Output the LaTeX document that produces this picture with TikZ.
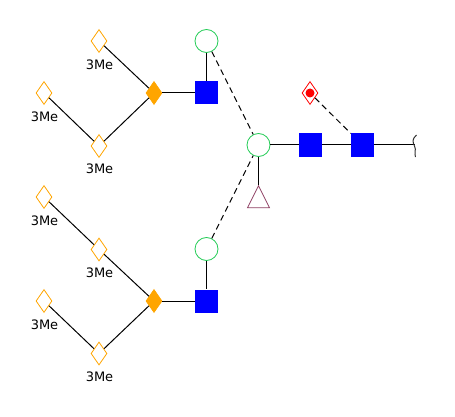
\documentclass[tikz,border=0pt]{standalone}
\usepackage{fontspec}
\setmainfont{DejaVu Sans}
\usetikzlibrary{shapes.geometric}
\definecolor{manorange}{HTML}{FFA500}
\definecolor{galgreen}{HTML}{22CC55}
\definecolor{fucmauve}{HTML}{8E3F62}
\begin{document}
\begin{tikzpicture}[
    x=1pt, y=-1pt,
    man/.style={draw=manorange, fill=white, diamond, minimum width=16pt, minimum height=23pt, inner sep=0pt, line width=0.8pt},
    manfull/.style={man, fill=manorange},
    sialic/.style={draw=red, fill=white, diamond, minimum width=16pt, minimum height=23pt, inner sep=0pt, line width=0.8pt},
    reddot/.style={fill=red, circle, minimum size=9pt, inner sep=0pt},
    gal/.style={draw=galgreen, fill=white, circle, minimum size=23pt, inner sep=0pt, line width=0.8pt},
    glcnac/.style={fill=blue, rectangle, minimum size=23pt, inner sep=0pt},
    fuc/.style={draw=fucmauve, fill=white, isosceles triangle, shape border rotate=90, isosceles triangle apex angle=53, minimum height=22pt, inner sep=0pt, line width=0.8pt},
    methyl/.style={font=\fontsize{13}{15}\selectfont},
    link/.style={black, line width=1pt},
    dashlink/.style={link, dashed, dash pattern=on 6pt off 4pt}
]
\useasboundingbox (0,0) rectangle (455,417);
\coordinate (root) at (415,145);
% Upper antenna
\node[man] (topa) at (99,41) {};
\node[man] (topb) at (44,93) {};
\node[man] (topc) at (99,146) {};
\node[manfull] (topd) at (154,93) {};
\node[gal] (topgal) at (206.5,41) {};
\node[glcnac] (topnac) at (206.5,93) {};
\node[methyl] (lbla) at (99.5,64.5) {3Me};
\node[methyl] (lblb) at (44.5,116.5) {3Me};
\node[methyl] (lblc) at (99.5,168.5) {3Me};
% Lower antenna
\node[man] (lowa) at (44,197) {};
\node[man] (lowb) at (99,249.5) {};
\node[man] (lowc) at (44,301) {};
\node[man] (lowd) at (99,353.5) {};
\node[manfull] (lowe) at (154,301) {};
\node[gal] (lowgal) at (206.5,249) {};
\node[glcnac] (lownac) at (206.5,301) {};
\node[methyl] (lbld) at (44.5,220.5) {3Me};
\node[methyl] (lble) at (99.5,272.5) {3Me};
\node[methyl] (lblf) at (44.5,324.5) {3Me};
\node[methyl] (lblg) at (99.5,376.5) {3Me};
% Core
\node[gal] (core) at (258.5,145) {};
\node[glcnac] (corea) at (310.5,145) {};
\node[glcnac] (coreb) at (362.5,145) {};
\node[fuc] (tri) at (258.5,201) {};
\node[sialic] (sia) at (310,93) {};
\node[reddot] (siadot) at (310,93) {};
% Links
\draw[link] (topa) -- (topd);
\draw[link] (topb) -- (topc);
\draw[link] (topc) -- (topd);
\draw[link] (topd) -- (topnac);
\draw[link] (topgal) -- (topnac);
\draw[link] (lowa) -- (lowb);
\draw[link] (lowb) -- (lowe);
\draw[link] (lowc) -- (lowd);
\draw[link] (lowd) -- (lowe);
\draw[link] (lowe) -- (lownac);
\draw[link] (lowgal) -- (lownac);
\draw[dashlink] (topgal) -- (core);
\draw[dashlink] (lowgal) -- (core);
\draw[dashlink] (sia) -- (coreb);
\draw[link] (core) -- (tri);
\draw[link] (core) -- (corea);
\draw[link] (corea) -- (coreb);
\draw[link] (coreb) -- (root);
% Reducing end
\draw[black!80, line width=1pt] (416.5,135) .. controls (412,139) and (412.5,142) .. (414.5,146) .. controls (416.5,150) and (414,153) .. (415.5,157);
\end{tikzpicture}
\end{document}
